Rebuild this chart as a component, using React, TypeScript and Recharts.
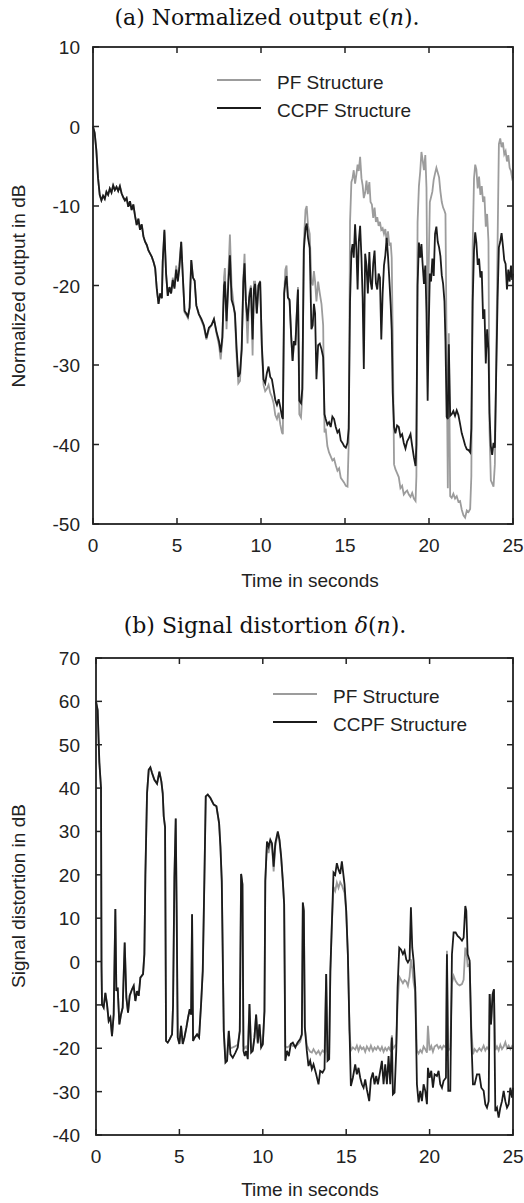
import React from 'react';
import { LineChart, Line, XAxis, YAxis } from 'recharts';

// shared axis ticks
const xTicks = [0, 5, 10, 15, 20, 25];
const yTicksA = [-50, -40, -30, -20, -10, 0, 10];
const yTicksB = [-40, -30, -20, -10, 0, 10, 20, 30, 40, 50, 60, 70];

// (a) normalized output, seconds
const timeA = [
  0, 0.1, 0.2, 0.3, 0.4, 0.5, 0.6, 0.7, 0.8, 0.9,
  1.0, 1.1, 1.2, 1.3, 1.4, 1.5, 1.6, 1.7, 1.8, 1.9,
  2.0, 2.1, 2.2, 2.3, 2.4, 2.5, 2.6, 2.7, 2.8, 2.9,
  3.0, 3.1, 3.2, 3.3, 3.4, 3.5, 3.6, 3.7, 3.8, 3.9,
  4.0, 4.1, 4.15, 4.25, 4.35, 4.45, 4.55, 4.65, 4.75, 4.85,
  4.95, 5.05, 5.15, 5.25, 5.35, 5.45, 5.55, 5.65, 5.75, 5.85,
  5.95, 6.05, 6.15, 6.3, 6.45, 6.6, 6.75, 6.9, 7.05, 7.2,
  7.35, 7.5, 7.6, 7.7, 7.8, 7.85, 7.95, 8.05, 8.15, 8.25,
  8.35, 8.45, 8.55, 8.65, 8.75, 8.85, 8.95, 9.02, 9.1, 9.2,
  9.3, 9.4, 9.5, 9.58, 9.65, 9.75, 9.85, 9.95, 10.05, 10.15,
  10.25, 10.35, 10.45, 10.55, 10.65, 10.75, 10.85, 10.95, 11.05, 11.15,
  11.25, 11.3, 11.38, 11.45, 11.52, 11.6, 11.7, 11.8, 11.88, 11.96,
  12.05, 12.12, 12.2, 12.28, 12.38, 12.46, 12.55, 12.65, 12.72, 12.8,
  12.9, 13.0, 13.08, 13.15, 13.22, 13.3, 13.4, 13.5, 13.6, 13.7,
  13.78, 13.85, 13.95, 14.05, 14.15, 14.25, 14.35, 14.45, 14.55, 14.65,
  14.75, 14.85, 14.95, 15.05, 15.15, 15.22, 15.3, 15.38, 15.45, 15.52,
  15.6, 15.68, 15.75, 15.82, 15.9, 15.98, 16.05, 16.12, 16.2, 16.28,
  16.36, 16.45, 16.52, 16.6, 16.68, 16.76, 16.84, 16.92, 17.0, 17.08,
  17.16, 17.24, 17.32, 17.4, 17.48, 17.56, 17.64, 17.72, 17.78, 17.84,
  17.92, 18.0, 18.1, 18.2, 18.3, 18.4, 18.5, 18.6, 18.7, 18.8,
  18.9, 19.0, 19.1, 19.2, 19.25, 19.32, 19.4, 19.48, 19.55, 19.62,
  19.7, 19.78, 19.85, 19.92, 19.98, 20.05, 20.12, 20.2, 20.28, 20.36,
  20.44, 20.52, 20.6, 20.68, 20.76, 20.84, 20.92, 20.98, 21.05, 21.12,
  21.18, 21.26, 21.35, 21.45, 21.55, 21.65, 21.75, 21.85, 21.95, 22.05,
  22.15, 22.25, 22.35, 22.45, 22.52, 22.6, 22.68, 22.75, 22.82, 22.9,
  22.98, 23.06, 23.14, 23.22, 23.3, 23.38, 23.46, 23.54, 23.6, 23.68,
  23.76, 23.84, 23.92, 24.0, 24.08, 24.16, 24.24, 24.32, 24.4, 24.48,
  24.56, 24.64, 24.72, 24.8, 24.88, 24.95, 25.0,
];

const ccpfA = [
  0, -0.8, -3, -6.5, -8.6, -9.3, -8.7, -9.1, -8.2, -8.6,
  -7.8, -8.3, -7.4, -8.0, -7.6, -8.1, -7.5, -8.4, -8.9, -9.3,
  -9.0, -10.1, -9.4, -10.5, -9.8, -11.2, -12.4, -11.6, -13.0, -12.3,
  -13.8, -14.5, -14.9, -15.6, -16.0, -16.4, -17.0, -17.8, -20.5, -22.3,
  -21.0, -21.6, -17, -13.0, -18.5, -21.3, -20.2, -21.0, -19.3, -20.4,
  -18.0, -19.5, -17.6, -14.5, -19, -23.2, -23.5, -23.9, -22.8, -16.8,
  -19.0, -19.4, -22.5, -23.6, -24.2, -25.0, -26.6, -25.3, -25.0, -24.2,
  -25.8, -27.0, -28.4, -26.5, -20, -19.5, -24.5, -20, -16.2, -21.8,
  -22.5, -23.5, -28, -31.5, -31.0, -28, -19.5, -17.2, -22, -24.5,
  -21.5, -20.3, -26.8, -20.5, -19.8, -23.5, -20, -19.5, -27.5, -31.8,
  -32.3, -31, -30.2, -31.5, -31.8, -33.1, -34.4, -35, -34.3, -35.3,
  -36.5, -36.8, -21, -19.5, -18.8, -21.5, -21.8, -26.5, -29.5, -27,
  -27.5, -24, -20.5, -34.5, -34.8, -33, -15.5, -12.8, -12.2, -14,
  -15.3, -25.5, -25, -22.3, -23.5, -31.8, -27.5, -27.3, -28, -29,
  -36.2, -36.8, -37.5, -37.2, -37.8, -36.5, -36.8, -37.8, -38.5, -38.2,
  -39.5, -39.8, -40.2, -40.4, -39.8, -38, -22, -15.8, -14.8, -16.5,
  -12.3, -15.5, -20.5, -14.5, -12.5, -16.5, -21.5, -30.5, -16, -17.5,
  -21, -15.8, -19.5, -20.5, -17.2, -15.6, -19.7, -20.5, -18.5, -19,
  -26.8, -21, -17.5, -16.2, -14, -16.3, -19.3, -22.5, -25.6, -33.5,
  -37.8, -38.6, -37.6, -37.8, -39, -38.7, -39.8, -40.5, -39.6, -39.2,
  -38.7, -40.2, -41.6, -42.7, -40, -20, -14.6, -16.5, -14.8, -17.3,
  -19.8, -17.5, -23.5, -34.5, -25.8, -18.5, -19.5, -16.6, -18.8, -13.5,
  -12.6, -14.5, -15.2, -16.3, -18.7, -19.8, -22, -27, -36.5, -36.8,
  -27.4, -36.4, -36.2, -35.8, -36.4, -35.7, -36.3, -37.4, -38.6, -39.3,
  -40.1, -40.6, -40.7, -41, -38, -22, -15.5, -13.3, -14.6, -17.4,
  -16.6, -19, -18.2, -24.2, -23, -29.8, -25.5, -28, -36, -40.2,
  -41.3, -39.8, -40.4, -31, -22, -15.2, -14.5, -13.4, -15, -16.8,
  -17.3, -20.5, -18, -19.5, -17.5, -19.3, -18.5,
];

const pfA = [
  0, -0.8, -3, -6.5, -8.6, -9.3, -8.7, -9.1, -8.2, -8.6,
  -7.8, -8.3, -7.4, -8.0, -7.6, -8.1, -7.5, -8.4, -8.9, -9.3,
  -9.0, -10.1, -9.4, -10.5, -9.8, -11.2, -12.4, -11.6, -13.0, -12.3,
  -13.8, -14.5, -14.9, -15.6, -16.0, -16.4, -17.0, -17.8, -20.5, -22.3,
  -21.0, -21.6, -17, -13.2, -18.5, -21.3, -20.2, -21.0, -19.0, -20.2,
  -17.5, -19.3, -17, -14.5, -19, -23.4, -23.7, -24.1, -22.8, -16.8,
  -19.0, -19.4, -22.5, -23.6, -24.4, -25.2, -26.8, -25.5, -25.0, -24.3,
  -26, -27.5, -29.3, -27, -19, -17.8, -25.5, -19, -13.6, -20,
  -22, -24, -29, -32.3, -32, -28, -19, -16, -22, -27.3,
  -21, -20, -28.8, -19.5, -19.5, -23.5, -20, -19.4, -28, -32.5,
  -33.3, -33, -32.5, -33.5, -34, -34.8, -36.3, -36.8, -36, -37.5,
  -38.5, -38.7, -21, -18, -17.5, -21.5, -22, -26.5, -29.5, -27.5,
  -27, -24, -20.2, -36.2, -36.6, -34, -14.5, -10.5, -10, -12.5,
  -13.5, -19.5, -20, -18.2, -19.5, -22, -19.5, -21, -22.3, -25,
  -38.5, -38, -40.2, -41, -41.5, -42, -41.8, -42.6, -43.3, -43,
  -44.2, -44.5, -44.8, -45.2, -45.3, -40, -12, -7, -6.5, -5.5,
  -7.2, -6, -4.8, -5.6, -3.8, -6.5, -7.4, -9, -8.3, -6.8,
  -8.5, -7, -9.5, -9.8, -11.5, -10.2, -12, -11.4, -12.5, -12,
  -13, -12.8, -13.5, -12.9, -14.5, -13.2, -15, -14.6, -16.5, -26,
  -42.5, -43.1, -43.6, -44.1, -45.5, -45.2, -46.3, -46, -45.8, -46.3,
  -46.6, -46.1, -46.8, -47.1, -44, -12, -7.5, -5.6, -3.2, -4.2,
  -5.5, -3.6, -7.7, -26, -18, -9.5, -8.9, -8.2, -6.7, -5.9,
  -5.2, -5.8, -6.4, -8.2, -9.5, -10.2, -10.6, -11, -28, -45.5,
  -26, -46.5, -46.7, -46.2, -46.8, -46.5, -47.2, -47.1, -48.2, -48.9,
  -49.2, -48.3, -48.5, -48.1, -44, -15, -6.5, -4.8, -5.4, -7.8,
  -6.3, -8.6, -7.5, -9.5, -8.8, -12.6, -11, -14.5, -38, -44.5,
  -44.9, -45.3, -42.5, -30, -15, -2.2, -1.5, -2.6, -2.0, -3.5,
  -3.1, -4.4, -3.6, -5.2, -5.6, -6.5, -6.3,
];

// (b) signal distortion, seconds
const timeB = [
  0.0, 0.1, 0.2, 0.3, 0.33, 0.36, 0.46, 0.56, 0.66, 0.76,
  0.86, 0.96, 1.06, 1.16, 1.22, 1.3, 1.4, 1.5, 1.6, 1.72,
  1.82, 1.92, 2.02, 2.16, 2.26, 2.36, 2.46, 2.56, 2.66, 2.82,
  2.9, 2.96, 3.06, 3.16, 3.26, 3.36, 3.5, 3.66, 3.8, 3.92,
  4.0, 4.06, 4.14, 4.2, 4.3, 4.42, 4.56, 4.62, 4.7, 4.78,
  4.84, 4.9, 5.0, 5.1, 5.2, 5.3, 5.42, 5.52, 5.62, 5.7,
  5.76, 5.82, 5.92, 6.06, 6.18, 6.3, 6.4, 6.5, 6.58, 6.7,
  6.86, 7.06, 7.22, 7.38, 7.46, 7.54, 7.66, 7.76, 7.86, 7.96,
  8.06, 8.2, 8.36, 8.5, 8.62, 8.7, 8.78, 8.84, 8.92, 9.0,
  9.1, 9.2, 9.3, 9.4, 9.5, 9.6, 9.7, 9.8, 9.9, 10.0,
  10.1, 10.15, 10.25, 10.35, 10.45, 10.55, 10.65, 10.75, 10.9, 11.0,
  11.1, 11.2, 11.28, 11.35, 11.45, 11.56, 11.68, 11.8, 11.95, 12.08,
  12.24, 12.34, 12.4, 12.46, 12.52, 12.64, 12.74, 12.84, 12.94, 13.04,
  13.2, 13.34, 13.44, 13.58, 13.7, 13.8, 13.88, 13.98, 14.05, 14.14,
  14.24, 14.34, 14.44, 14.54, 14.64, 14.74, 14.9, 15.0, 15.1, 15.2,
  15.28, 15.4, 15.54, 15.64, 15.74, 15.84, 15.94, 16.04, 16.14, 16.24,
  16.38, 16.48, 16.6, 16.7, 16.8, 16.9, 17.04, 17.14, 17.24, 17.34,
  17.44, 17.54, 17.64, 17.74, 17.8, 17.9, 18.0, 18.08, 18.18, 18.28,
  18.4, 18.5, 18.6, 18.7, 18.8, 18.88, 18.96, 19.04, 19.14, 19.24,
  19.34, 19.44, 19.54, 19.64, 19.74, 19.84, 19.9, 20.0, 20.1, 20.2,
  20.3, 20.44, 20.54, 20.64, 20.74, 20.84, 20.98, 21.04, 21.12, 21.24,
  21.34, 21.44, 21.56, 21.68, 21.8, 21.94, 22.04, 22.14, 22.2, 22.28,
  22.4, 22.5, 22.6, 22.7, 22.84, 22.98, 23.1, 23.24, 23.34, 23.44,
  23.54, 23.6, 23.68, 23.78, 23.86, 23.94, 24.04, 24.14, 24.24, 24.34,
  24.44, 24.54, 24.64, 24.74, 24.84, 24.94, 25.0,
];

const ccpfB = [
  60, 58, 46, 40, -1, -9.8, -10.6, -7.2, -9.8, -13.7,
  -12.9, -17.2, -12.2, 12.1, -6.8, -6, -14.5, -12.2, -10.6, 4.4,
  -8.3, -11.8, -7.9, -6.4, -5.6, -9.1, -6.8, -7.9, -3.7, -2.9,
  1.7, 20, 38.8, 44.2, 44.8, 43.5, 41.9, 41, 43.8, 41.5,
  38.8, 33.5, 31, -18.3, -18.7, -17.9, -16.8, -10, 19.4, 33,
  10, -17.5, -19, -14.8, -19, -17.5, -15.2, -12.9, -11, -12.2,
  10.9, -18.3, -17.5, -16.8, -17.5, -9.8, -2.2, 19.4, 38.1, 38.5,
  37.7, 36.2, 35.8, 31.9, 26.5, 18.6, -16, -23.3, -22.9, -16,
  -21.4, -22.2, -21, -19.8, -16, 20.2, 17.8, -20.6, -21.8, -20.6,
  -22.5, -9.8, -21, -20.6, -17.5, -12.2, -18.7, -14.5, -19.8, -19,
  -11.4, 18.6, 27.7, 26.5, 28.1, 27.3, 21.9, 27.3, 30, 28.1,
  24.2, 18.6, 13.2, -22.9, -20.6, -21.8, -19, -18.7, -19.8, -18.7,
  -17.9, -16.8, 13.6, 11.7, -15.2, -20.6, -24.1, -22.9, -24.8, -23.7,
  -26, -28.3, -25.2, -25.6, -24.8, -2.9, -22.9, -22.5, -2.2, 8.6,
  20.5, 20, 22.7, 21.2, 20.2, 23.1, 17.8, 11.7, 1.7, -16,
  -28.7, -26.8, -23.7, -26, -24.5, -26.8, -28.3, -29.1, -27.2, -29.5,
  -32.2, -27.2, -25.6, -28.3, -26.4, -28.3, -25.2, -22.9, -28.3, -23.7,
  -28.3, -21.8, -28.3, -17.5, -30.6, -30.2, -20.6, -6, 3.2, 2.8,
  1.7, 2.5, 0.5, -0.2, 0.5, 12.5, 3.2, 0.2, -6, -28.3,
  -32.5, -29.8, -32.2, -28.3, -29.8, -32.9, -24.5, -26.8, -25.2, -29.1,
  -26, -26.4, -25.2, -28.3, -29.1, -27.5, -26.8, 1.7, -29.8, -29.8,
  1.7, 6.7, 6.7, 5.9, 5.5, 4.8, 5.5, 12.8, 11.7, 1.7,
  0.2, -17.5, -28.3, -28.3, -26, -26, -29.1, -29.8, -32.9, -33.7,
  -32.2, -7.5, -14.5, -7.5, -6.4, -34.5, -33.7, -36, -33.7, -32.2,
  -29.8, -32.2, -33.7, -32.9, -29.1, -31.4, -29.1,
];

const pfB = [
  60, 58, 46, 40, -1, -9.8, -10.6, -7.2, -9.8, -13.7,
  -12.9, -17.2, -12.2, 12.1, -6.8, -6, -14.5, -12.2, -10.6, 4.4,
  -8.3, -11.8, -7.9, -6.4, -5.6, -9.1, -6.8, -7.9, -3.7, -2.9,
  1.7, 20, 38.8, 44.2, 44.8, 43.5, 41.9, 41, 43.8, 41.5,
  38.8, 33.5, 31, -18.3, -18.7, -17.9, -16.8, -10, 19.4, 33,
  10, -17.5, -19, -14.8, -19, -17.5, -15.2, -12.9, -11, -12.2,
  10.9, -18.3, -17.5, -16.8, -17.5, -9.8, -2.2, 19.4, 38.1, 38.5,
  37.7, 36.2, 35.8, 31.9, 26.5, 18.6, -16, -22.5, -21.5, -16,
  -20, -19.8, -19.5, -19.2, -16, 20.2, 17.8, -19.5, -20, -19.6,
  -20.4, -9.8, -19.8, -20, -17.5, -12.2, -19, -14.5, -19.6, -19.2,
  -11.4, 18.6, 27.2, 25, 27.5, 26.8, 20.8, 26.5, 29.6, 27.8,
  24, 18.6, 13.2, -19.5, -19.8, -19.6, -19, -19.5, -19.4, -19.2,
  -18.5, -17, 13.6, 11.7, -15.2, -19.3, -20.2, -20.8, -21, -20.2,
  -21.3, -20.6, -21.5, -20.5, -21, -2.9, -20.8, -21, -2.2, 8.6,
  17.2, 16.3, 18.2, 17, 18.3, 17.6, 15.8, 11.7, 1.7, -16,
  -20.5, -19.8, -20.3, -19.4, -20.6, -19.5, -20.2, -19.8, -20.8, -19.6,
  -20.5, -19.4, -20.6, -19.8, -20.3, -19.6, -20.5, -19.7, -20.8, -19.9,
  -20.5, -19.8, -20.4, -17, -20.2, -19.6, -19, -10, -3.5, -4.2,
  -5, -4.3, -4.6, -5.6, -3.5, 0.5, -1.5, -4.8, -7, -20.5,
  -21.2, -20.4, -21, -19.6, -20.2, -21, -14.8, -20.5, -19.5, -20.8,
  -19.6, -19.2, -20, -19.5, -20.2, -19.4, -19.8, 2.5, -20.5, -20,
  -5, -3.3, -4.5, -5.2, -5.5, -5.2, -4.2, 3.2, 2.5, -1,
  -0.6, -15, -21.4, -20.2, -20.8, -20, -20.6, -19.4, -20.5, -19.8,
  -20.3, -7.5, -14.5, -7.5, -6.4, -20.4, -19.6, -20.5, -19.2, -20.2,
  -19.6, -18.6, -20, -19.4, -20.2, -19.5, -19.8,
];

const GRAY = '#9c9c9c';
const BLACK = '#1b1b1b';
const FRAME = '#222';
const SANS = '"Liberation Sans", Arial, Helvetica, sans-serif';
const SERIF = '"DejaVu Serif", "Liberation Serif", serif';
const TICK = 6;
const CHART_W = 524;
const RIGHT = 11;
const PLOT_H = 477;

type Row = { t: number; ccpf: number; pf: number };

const buildRows = (time: number[], ccpf: number[], pf: number[]): Row[] =>
  time.map((t, i) => ({ t, ccpf: ccpf[i], pf: pf[i] }));

const rowsA = buildRows(timeA, ccpfA, pfA);
const rowsB = buildRows(timeB, ccpfB, pfB);

// tick labels under the bottom axis and left of the left axis
const BottomTick = ({ x, y, payload }: any) => (
  <text x={x} y={y + 28} textAnchor="middle" fontFamily={SANS} fontSize={19} fill={FRAME}>
    {payload.value}
  </text>
);

const makeLeftTick = (labelX: number) => ({ y, payload }: any) => (
  <text x={labelX} y={y + 7} textAnchor="end" fontFamily={SANS} fontSize={19} fill={FRAME}>
    {payload.value}
  </text>
);

interface PanelProps {
  rows: Row[];
  top: number;
  height: number;
  plotTop: number;
  leftWidth: number;
  bottomHeight: number;
  yDomain: [number, number];
  yTicks: number[];
}

const Panel: React.FC<PanelProps> = ({ rows, top, height, plotTop, leftWidth, bottomHeight, yDomain, yTicks }) => (
  <div style={{ position: 'absolute', left: 0, top }}>
    <LineChart width={CHART_W} height={height} data={rows} margin={{ top: plotTop, right: RIGHT, bottom: 0, left: 0 }}>
      <XAxis
        dataKey="t"
        type="number"
        domain={[0, 25]}
        ticks={xTicks}
        interval={0}
        height={bottomHeight}
        axisLine={false}
        tickLine={false}
        tickSize={0}
        tickMargin={0}
        tick={BottomTick}
      />
      <YAxis
        type="number"
        domain={yDomain}
        ticks={yTicks}
        interval={0}
        width={leftWidth}
        axisLine={false}
        tickLine={false}
        tickSize={0}
        tickMargin={0}
        tick={makeLeftTick(80)}
      />
      <Line type="linear" dataKey="pf" stroke={GRAY} strokeWidth={1.8} dot={false} isAnimationActive={false} />
      <Line type="linear" dataKey="ccpf" stroke={BLACK} strokeWidth={1.8} dot={false} isAnimationActive={false} />
    </LineChart>
  </div>
);

// the closed box with inward ticks on all four sides (same geometry as the chart's plot area)
const Frame: React.FC<{ top: number; left: number; yDomain: [number, number]; yTicks: number[] }> = ({ top, left, yDomain, yTicks }) => {
  const w = CHART_W - RIGHT - left;
  const [yMin, yMax] = yDomain;
  const sx = (v: number) => left + (v / 25) * w;
  const sy = (v: number) => top + ((yMax - v) / (yMax - yMin)) * PLOT_H;
  return (
    <g stroke={FRAME} fill="none">
      <rect x={left} y={top} width={w} height={PLOT_H} strokeWidth={1.8} />
      {xTicks.map((v) => (
        <g key={`x${v}`} strokeWidth={1.5}>
          <line x1={sx(v)} x2={sx(v)} y1={top} y2={top + TICK} />
          <line x1={sx(v)} x2={sx(v)} y1={top + PLOT_H} y2={top + PLOT_H - TICK} />
        </g>
      ))}
      {yTicks.map((v) => (
        <g key={`y${v}`} strokeWidth={1.5}>
          <line x1={left} x2={left + TICK} y1={sy(v)} y2={sy(v)} />
          <line x1={left + w} x2={left + w - TICK} y1={sy(v)} y2={sy(v)} />
        </g>
      ))}
    </g>
  );
};

const Legend: React.FC<{ x: number; y: number }> = ({ x, y }) => (
  <g fontFamily={SANS} fontSize={19} fill={FRAME}>
    <line x1={x} x2={x + 44} y1={y} y2={y} stroke={GRAY} strokeWidth={1.8} />
    <text x={x + 60} y={y + 8.5}>PF Structure</text>
    <line x1={x} x2={x + 44} y1={y + 28} y2={y + 28} stroke={BLACK} strokeWidth={1.8} />
    <text x={x + 60} y={y + 36.5}>CCPF Structure</text>
  </g>
);

const App: React.FC = () => (
  <div style={{ position: 'absolute', left: 0, top: 0, width: 524, height: 1203, background: '#fff', overflow: 'hidden' }}>
    <Panel rows={rowsA} top={0} height={600} plotTop={47} leftWidth={93} bottomHeight={76} yDomain={[-50, 10]} yTicks={yTicksA} />
    <Panel rows={rowsB} top={600} height={603} plotTop={58} leftWidth={96} bottomHeight={68} yDomain={[-40, 70]} yTicks={yTicksB} />
    <svg width={524} height={1203} style={{ position: 'absolute', left: 0, top: 0, pointerEvents: 'none' }}>
      <Frame top={47} left={93} yDomain={[-50, 10]} yTicks={yTicksA} />
      <Frame top={658} left={96} yDomain={[-40, 70]} yTicks={yTicksB} />
      <text x={267} y={25} textAnchor="middle" fontFamily={SERIF} fontSize={22} fill="#111">
        (a) Normalized output ϵ(<tspan fontStyle="italic">n</tspan>).
      </text>
      <text x={265} y={633} textAnchor="middle" fontFamily={SERIF} fontSize={22} fill="#111">
        (b) Signal distortion <tspan fontStyle="italic">δ</tspan>(<tspan fontStyle="italic">n</tspan>).
      </text>
      <g fontFamily={SANS} fontSize={19} fill={FRAME} textAnchor="middle">
        <text x={310} y={587}>Time in seconds</text>
        <text x={310} y={1196}>Time in seconds</text>
        <text transform="translate(25,286) rotate(-90)">Normalized output in dB</text>
        <text transform="translate(25,896) rotate(-90)">Signal distortion in dB</text>
      </g>
      <Legend x={217} y={80} />
      <Legend x={273} y={694} />
    </svg>
  </div>
);

export default App;
